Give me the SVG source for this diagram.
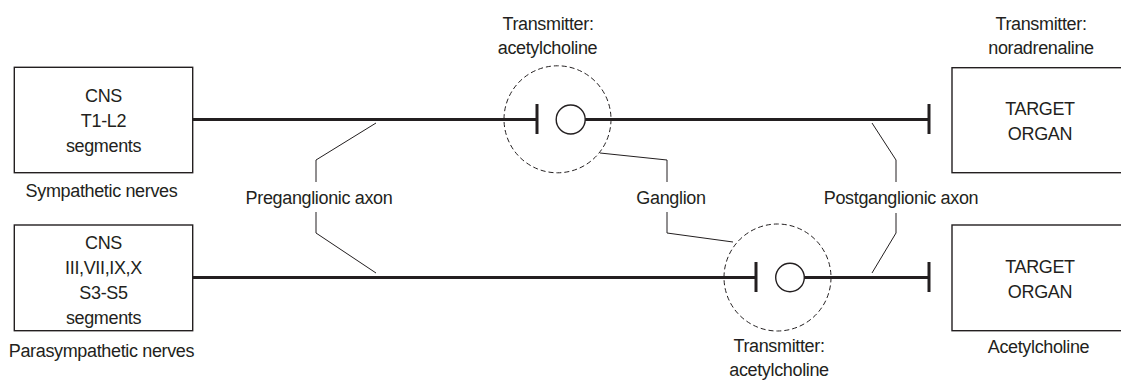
<svg xmlns="http://www.w3.org/2000/svg" width="1121" height="381" viewBox="0 0 1121 381">
<style>
text{font-family:"Liberation Sans",Arial,sans-serif;font-size:18px;letter-spacing:-0.35px;fill:#231f20;text-anchor:middle}
.box{fill:#fff;stroke:#231f20;stroke-width:1.4}
.axon{stroke:#231f20;stroke-width:3;fill:none}
.bar{stroke:#231f20;stroke-width:3}
.lead{stroke:#231f20;stroke-width:1;fill:none}
.gang{fill:none;stroke:#231f20;stroke-width:1;stroke-dasharray:5 3}
.syn{fill:#fff;stroke:#231f20;stroke-width:1.4}
</style>
<rect width="1121" height="381" fill="#fff"/>
<g id="connectors">
<line class="axon" x1="193" y1="119.5" x2="537" y2="119.5"/>
<line class="axon" x1="585" y1="119.5" x2="929" y2="119.5"/>
<line class="axon" x1="193" y1="277.5" x2="756" y2="277.5"/>
<line class="axon" x1="804" y1="277.5" x2="929" y2="277.5"/>
<line class="bar" x1="929" y1="104" x2="929" y2="134"/>
<line class="bar" x1="929" y1="262" x2="929" y2="292"/>
<polyline class="lead" points="376,123 316,160 316,182"/>
<polyline class="lead" points="316,212 316,233 376,273"/>
<polyline class="lead" points="600,153 667,160 667,182"/>
<polyline class="lead" points="667,212 667,233 733,242"/>
<polyline class="lead" points="872,123 896,160 896,182"/>
<polyline class="lead" points="896,213 896,233 872,273"/>
</g>
<g id="cns-sympathetic">
<rect class="box" x="14.3" y="67.3" width="178.4" height="105.4"/>
<text x="103.5" y="101.5">CNS</text>
<text x="103.5" y="126.5">T1-L2</text>
<text x="103.5" y="151.5">segments</text>
<text x="101.5" y="196.5">Sympathetic nerves</text>
</g>
<g id="cns-parasympathetic">
<rect class="box" x="14.3" y="225" width="178.4" height="105.7"/>
<text x="103.5" y="248.5">CNS</text>
<text x="103.5" y="273.5">III,VII,IX,X</text>
<text x="103.5" y="298.5">S3-S5</text>
<text x="103.5" y="323.5">segments</text>
<text x="101.5" y="356.5">Parasympathetic nerves</text>
</g>
<g id="ganglion-sympathetic">
<circle class="gang" cx="557.5" cy="119.3" r="53.5"/>
<line class="bar" x1="537" y1="104" x2="537" y2="134"/>
<circle class="syn" cx="570.7" cy="119.5" r="14.5"/>
<text x="548" y="29.5">Transmitter:</text>
<text x="547.5" y="54">acetylcholine</text>
</g>
<g id="ganglion-parasympathetic">
<circle class="gang" cx="777.5" cy="277.5" r="53.5"/>
<line class="bar" x1="756" y1="262" x2="756" y2="292"/>
<circle class="syn" cx="790" cy="277.5" r="14.3"/>
<text x="779" y="351.5">Transmitter:</text>
<text x="779" y="376">acetylcholine</text>
</g>
<g id="target-sympathetic">
<rect class="box" x="952" y="67.7" width="190" height="105"/>
<text x="1040" y="115">TARGET</text>
<text x="1040" y="140">ORGAN</text>
<text x="1041" y="29.5">Transmitter:</text>
<text x="1041" y="54">noradrenaline</text>
</g>
<g id="target-parasympathetic">
<rect class="box" x="952" y="225" width="190" height="105.7"/>
<text x="1040" y="273.3">TARGET</text>
<text x="1040" y="298.3">ORGAN</text>
<text x="1038.5" y="353.3">Acetylcholine</text>
</g>
<g id="labels">
<text x="319" y="204">Preganglionic axon</text>
<text x="671" y="204">Ganglion</text>
<text x="901" y="204">Postganglionic axon</text>
</g>
</svg>
